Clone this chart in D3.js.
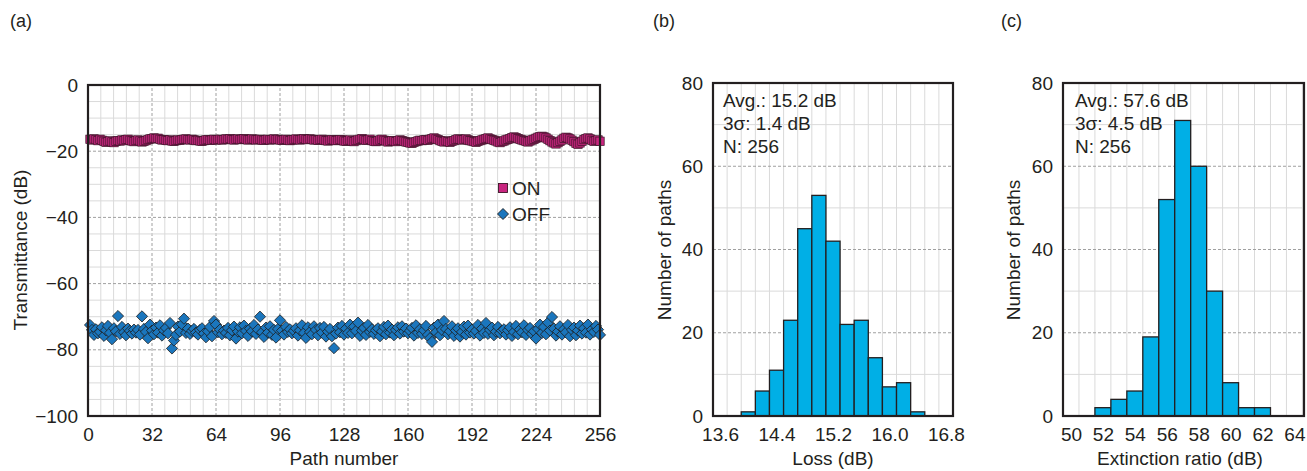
<!DOCTYPE html>
<html>
<head>
<meta charset="utf-8">
<script src="https://cdn.jsdelivr.net/npm/d3@7"></script>
<style>
    body { margin: 0; background: #fff; }
    svg text { font-family: "Liberation Sans", Arial, Helvetica, sans-serif; fill: #231f20; }
</style>
</head>
<body>
<div id="chart"></div>
<script>
// Transmittance per path (dB), paths 1..256
const onValues = [
    -16.4,-16.6,-16.3,-16.5,-16.8,-16.4,-16.7,-17.0,-17.3,-17.1,-16.9,-17.2,-17.4,-17.0,-16.8,-16.9,
    -16.6,-16.8,-16.5,-16.4,-16.7,-16.9,-17.1,-16.8,-16.6,-16.9,-17.2,-17.0,-16.8,-16.5,-16.3,-16.2,
    -16.0,-16.2,-16.1,-16.4,-16.6,-16.5,-16.7,-16.8,-16.6,-16.9,-17.0,-16.8,-16.6,-16.7,-16.5,-16.4,
    -16.3,-16.5,-16.6,-16.4,-16.6,-16.8,-16.7,-16.9,-17.0,-16.8,-16.6,-16.5,-16.7,-16.6,-16.4,-16.6,
    -16.5,-16.4,-16.6,-16.5,-16.3,-16.4,-16.2,-16.5,-16.6,-16.4,-16.3,-16.5,-16.4,-16.2,-16.4,-16.6,
    -16.5,-16.3,-16.4,-16.6,-16.5,-16.4,-16.6,-16.7,-16.5,-16.4,-16.6,-16.5,-16.3,-16.5,-16.4,-16.6,
    -16.7,-16.5,-16.4,-16.6,-16.8,-16.6,-16.5,-16.3,-16.5,-16.6,-16.4,-16.2,-16.4,-16.5,-16.3,-16.4,
    -16.6,-16.5,-16.7,-16.5,-16.4,-16.6,-16.8,-16.9,-16.7,-16.5,-16.6,-16.8,-16.7,-16.5,-16.6,-16.9,
    -17.0,-16.8,-16.6,-16.9,-17.1,-16.8,-16.6,-16.4,-16.2,-16.5,-16.7,-16.6,-16.4,-16.8,-17.0,-17.1,
    -16.9,-16.6,-16.4,-16.7,-16.9,-17.2,-17.0,-16.8,-16.9,-17.1,-16.8,-16.6,-16.8,-17.0,-17.2,-17.3,
    -17.5,-17.6,-17.3,-17.1,-16.9,-16.7,-16.8,-16.6,-16.5,-16.7,-16.4,-16.2,-16.0,-16.3,-16.5,-16.8,
    -17.0,-17.2,-16.9,-17.1,-17.3,-17.0,-16.8,-16.5,-16.3,-16.4,-16.6,-16.5,-16.3,-16.6,-16.8,-16.9,
    -17.1,-17.3,-17.0,-16.8,-16.6,-16.4,-16.2,-16.0,-16.3,-16.5,-16.7,-16.9,-17.2,-17.4,-17.1,-16.9,
    -16.6,-16.4,-16.2,-15.9,-15.7,-15.9,-16.2,-16.4,-16.6,-16.8,-17.0,-17.2,-16.9,-16.6,-16.4,-16.1,
    -15.8,-15.6,-15.5,-15.7,-16.0,-16.4,-16.8,-17.2,-17.5,-17.8,-17.4,-17.0,-16.6,-16.1,-15.8,-16.0,
    -16.3,-16.7,-17.1,-17.6,-17.9,-17.5,-17.0,-16.5,-16.2,-16.0,-16.3,-16.7,-17.0,-16.8,-16.6,-17.0
];

const offValues = [
    -72.5,-74.0,-75.5,-73.8,-75.0,-74.6,-73.2,-75.8,-74.1,-72.8,-74.9,-76.8,-73.5,-74.4,-69.8,-75.2,
    -73.1,-74.7,-75.6,-73.6,-74.3,-75.1,-73.9,-74.8,-74.0,-75.4,-69.9,-73.7,-74.6,-76.5,-72.4,-74.2,
    -75.3,-73.3,-74.8,-72.6,-75.7,-74.1,-73.4,-75.0,-71.9,-79.6,-77.2,-75.5,-73.0,-74.5,-72.3,-70.6,
    -74.9,-73.6,-75.2,-74.3,-73.7,-74.8,-75.4,-74.0,-73.5,-75.1,-76.2,-74.4,-73.1,-75.9,-71.3,-72.4,
    -74.7,-73.9,-75.3,-74.2,-74.9,-73.4,-75.6,-74.1,-73.0,-76.6,-74.5,-73.2,-75.0,-72.7,-74.3,-75.8,
    -73.6,-74.4,-72.5,-75.2,-73.9,-70.0,-74.7,-76.1,-73.3,-74.8,-72.9,-75.5,-74.0,-76.3,-73.7,-71.1,
    -74.2,-75.4,-73.1,-74.6,-73.8,-75.0,-74.3,-73.5,-75.7,-74.1,-72.6,-74.9,-76.4,-73.2,-74.6,-75.3,
    -72.9,-74.0,-75.6,-73.4,-74.8,-73.1,-76.0,-74.5,-73.7,-75.9,-79.5,-75.1,-73.3,-74.7,-72.8,-75.4,
    -73.6,-74.9,-72.4,-75.0,-73.0,-74.3,-71.8,-75.8,-74.2,-73.4,-75.5,-72.5,-74.6,-73.8,-75.2,-74.1,
    -73.5,-75.9,-74.4,-73.1,-75.3,-72.7,-74.8,-73.9,-75.6,-74.0,-73.2,-75.1,-72.9,-74.5,-73.6,-75.0,
    -74.3,-73.4,-75.7,-72.6,-74.9,-73.8,-75.2,-74.1,-72.8,-75.5,-76.5,-77.6,-73.3,-74.7,-72.4,-75.6,
    -74.0,-71.3,-73.7,-75.3,-74.4,-72.9,-75.8,-74.2,-73.5,-76.0,-74.6,-73.0,-75.4,-72.7,-74.8,-73.9,
    -75.1,-74.3,-72.5,-75.7,-73.6,-74.9,-71.9,-75.2,-74.0,-73.3,-75.6,-74.5,-73.1,-75.0,-74.2,-73.8,
    -75.4,-74.1,-73.2,-75.8,-74.6,-72.8,-75.3,-73.9,-74.7,-72.6,-75.5,-74.0,-73.4,-75.2,-74.4,-76.6,
    -73.7,-72.4,-74.9,-73.1,-75.3,-71.8,-74.2,-70.1,-73.6,-75.7,-74.5,-72.9,-75.4,-73.8,-74.7,-72.5,
    -75.9,-74.0,-73.3,-75.6,-74.2,-72.7,-75.1,-73.5,-74.8,-72.4,-75.4,-73.9,-74.6,-72.8,-73.9,-75.5
];

// Histogram (b): loss bins (centre, dB) and counts
const lossCenters = [14.0, 14.2, 14.4, 14.6, 14.8, 15.0, 15.2, 15.4, 15.6, 15.8, 16.0, 16.2, 16.4];
const lossCounts  = [1, 6, 11, 23, 45, 53, 42, 22, 23, 14, 7, 8, 1];

// Histogram (c): extinction ratio bins (centre, dB) and counts
const erCenters = [52, 53, 54, 55, 56, 57, 58, 59, 60, 61, 62];
const erCounts  = [2, 4, 6, 19, 52, 71, 60, 30, 8, 2, 2];

// Tick labels
const pathTicks = [0, 32, 64, 96, 128, 160, 192, 224, 256];
const transTicks = [0, -20, -40, -60, -80, -100];
const lossTicks = [13.6, 14.4, 15.2, 16.0, 16.8];
const erTicks = [50, 52, 54, 56, 58, 60, 62, 64];
const countTicks = [0, 20, 40, 60, 80];

const lossText = ['Avg.: 15.2 dB', '3\u03c3: 1.4 dB', 'N: 256'];
const erText = ['Avg.: 57.6 dB', '3\u03c3: 4.5 dB', 'N: 256'];

const width = 1307, height = 471;
const ink = '#231f20';
const onColor = '#c8257f', offColor = '#1b76bd', barColor = '#00afe6';

const svg = d3.select('#chart')
    .append('svg')
    .attr('width', width)
    .attr('height', height);

// grid helper
function drawGrid(g, x, y, xVals, yVals, xMajor, yMajor) {
    g.selectAll('.vg').data(xVals).enter().append('line')
        .attr('x1', d => x(d)).attr('x2', d => x(d))
        .attr('y1', y.range()[0]).attr('y2', y.range()[1])
        .style('stroke', d => xMajor(d) ? '#a0a0a0' : '#dadada')
        .style('stroke-width', 1)
        .style('stroke-dasharray', d => xMajor(d) ? '3,2' : null);
    g.selectAll('.hg').data(yVals).enter().append('line')
        .attr('x1', x.range()[0]).attr('x2', x.range()[1])
        .attr('y1', d => y(d)).attr('y2', d => y(d))
        .style('stroke', d => yMajor(d) ? '#a0a0a0' : '#dadada')
        .style('stroke-width', 1)
        .style('stroke-dasharray', d => yMajor(d) ? '3,2' : null);
}

function drawAxes(g, x, y, xTicks, yTicks, xFmt) {
    const xa = g.append('g')
        .attr('transform', `translate(0,${y.range()[0]})`)
        .call(d3.axisBottom(x).tickValues(xTicks).tickSize(0).tickPadding(12).tickFormat(xFmt));
    const ya = g.append('g')
        .attr('transform', `translate(${x.range()[0]},0)`)
        .call(d3.axisLeft(y).tickValues(yTicks).tickSize(0).tickPadding(10));
    [xa, ya].forEach(a => {
        a.select('.domain').remove();
        a.selectAll('text').style('font-size', '19px').style('fill', ink)
            .style('font-family', '"Liberation Sans", Arial, sans-serif');
    });
    // frame
    g.append('rect')
        .attr('x', x.range()[0]).attr('y', y.range()[1])
        .attr('width', x.range()[1] - x.range()[0])
        .attr('height', y.range()[0] - y.range()[1])
        .style('fill', 'none')
        .style('stroke', ink)
        .style('stroke-width', 2.2);
}

function axisTitle(text, x, y, rotate) {
    svg.append('text')
        .attr('transform', `translate(${x},${y})` + (rotate ? ' rotate(-90)' : ''))
        .attr('text-anchor', 'middle')
        .style('font-size', '19px')
        .text(text);
}

// ---------- panel (a) ----------
const ga = svg.append('g');
const xA = d3.scaleLinear().domain([0, 256]).range([88, 600]);
const yA = d3.scaleLinear().domain([-100, 0]).range([416, 85]);

drawGrid(ga, xA, yA,
    d3.range(1, 40).map(k => k * 6.4),
    d3.range(-95, 0, 5),
    d => Math.abs(d / 32 - Math.round(d / 32)) < 1e-6,
    d => d % 20 === 0);

// OFF diamonds
ga.selectAll('.off').data(offValues).enter().append('path')
    .attr('d', 'M0,-5.6L5.6,0L0,5.6L-5.6,0Z')
    .attr('transform', (d, i) => `translate(${xA(i + 1)},${yA(d)})`)
    .style('fill', offColor)
    .style('stroke', '#1d1d1d')
    .style('stroke-width', 0.8);

// ON squares
ga.selectAll('.on').data(onValues).enter().append('rect')
    .attr('x', (d, i) => xA(i + 1) - 4.2)
    .attr('y', d => yA(d) - 4.2)
    .attr('width', 8.4).attr('height', 8.4)
    .style('fill', onColor)
    .style('stroke', '#3b1527')
    .style('stroke-width', 0.7);

drawAxes(ga, xA, yA, pathTicks, transTicks, d3.format('d'));
axisTitle('Path number', 344, 465, false);
axisTitle('Transmittance (dB)', 27, 250, true);

// legend
ga.append('rect').attr('x', 498.5).attr('y', 183.5).attr('width', 9).attr('height', 9)
    .style('fill', onColor).style('stroke', '#3b1527').style('stroke-width', 0.9);
ga.append('text').attr('x', 512).attr('y', 195).style('font-size', '19px').text('ON');
ga.append('path').attr('d', 'M0,-5.5L5.5,0L0,5.5L-5.5,0Z')
    .attr('transform', 'translate(503,214)')
    .style('fill', offColor).style('stroke', '#1d1d1d').style('stroke-width', 0.9);
ga.append('text').attr('x', 512).attr('y', 221).style('font-size', '19px').text('OFF');

// ---------- histogram helper ----------
function drawHist(x, y, centers, counts, binW, gridX, gridY, xTicks, xFmt, notes, noteX) {
    const g = svg.append('g');
    drawGrid(g, x, y, gridX, gridY, () => false, d => d % 20 === 0);

    g.selectAll('.bar').data(counts).enter().append('rect')
        .attr('x', (d, i) => x(centers[i] - binW / 2))
        .attr('y', d => y(d))
        .attr('width', (d, i) => x(centers[i] + binW / 2) - x(centers[i] - binW / 2))
        .attr('height', d => y(0) - y(d))
        .style('fill', barColor)
        .style('stroke', ink)
        .style('stroke-width', 1.3);

    drawAxes(g, x, y, xTicks, countTicks, xFmt);

    g.selectAll('.note').data(notes).enter().append('text')
        .attr('x', noteX)
        .attr('y', (d, i) => 107 + i * 23)
        .style('font-size', '19px')
        .text(d => d);
    return g;
}

// ---------- panel (b) ----------
const xB = d3.scaleLinear().domain([13.5, 16.9]).range([713, 953]);
const yB = d3.scaleLinear().domain([0, 80]).range([416, 83]);
drawHist(xB, yB, lossCenters, lossCounts, 0.2,
    d3.range(0, 16).map(k => 13.7 + k * 0.2),
    [10, 20, 30, 40, 50, 60, 70],
    lossTicks, d3.format('.1f'), lossText, 723);
axisTitle('Loss (dB)', 833, 465, false);
axisTitle('Number of paths', 671, 250, true);

// ---------- panel (c) ----------
const xC = d3.scaleLinear().domain([49.5, 64.6]).range([1063, 1304]);
const yC = d3.scaleLinear().domain([0, 80]).range([416, 83]);
drawHist(xC, yC, erCenters, erCounts, 1,
    d3.range(0, 15).map(k => 50.5 + k),
    [10, 20, 30, 40, 50, 60, 70],
    erTicks, d3.format('d'), erText, 1075);
axisTitle('Extinction ratio (dB)', 1180, 465, false);
axisTitle('Number of paths', 1020, 250, true);

// panel letters
[['(a)', 10], ['(b)', 653], ['(c)', 1001]].forEach(p => {
    svg.append('text').attr('x', p[1]).attr('y', 27)
        .style('font-size', '18px').text(p[0]);
});
</script>
</body>
</html>
